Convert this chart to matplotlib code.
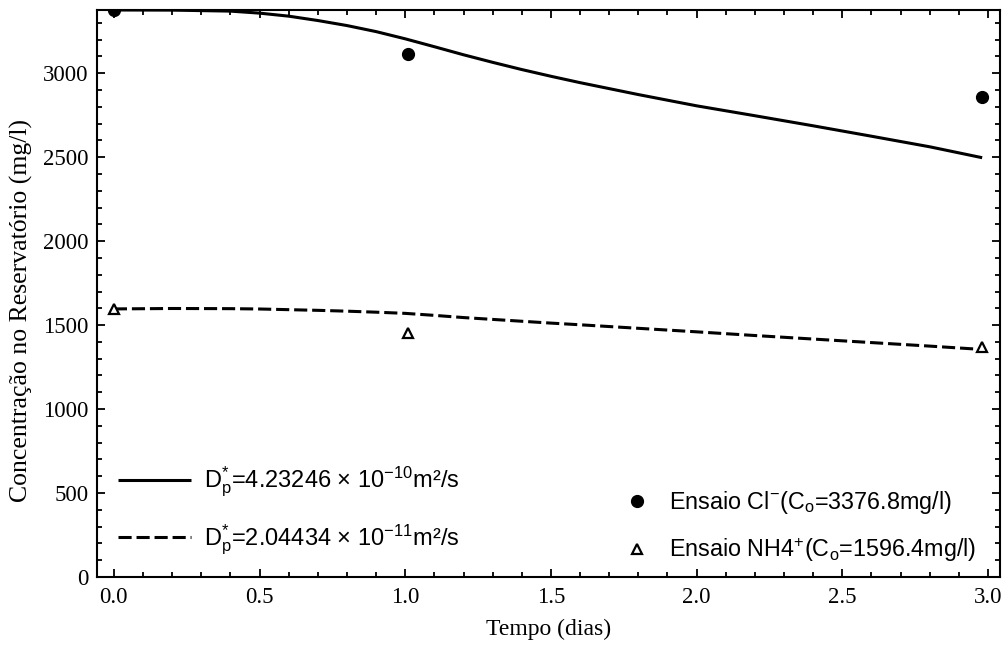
import matplotlib
matplotlib.use("Agg")
import matplotlib.pyplot as plt
from matplotlib.ticker import MultipleLocator, FormatStrFormatter

plt.rcParams['mathtext.fontset'] = 'custom'
plt.rcParams['mathtext.rm'] = 'Liberation Sans'
plt.rcParams['mathtext.it'] = 'Liberation Sans:italic'
plt.rcParams['mathtext.sf'] = 'Liberation Sans'

# Measured reservoir concentrations (mg/l) vs. time (days)
t_cl = [0.0, 1.01, 2.98]
c_cl = [3376.8, 3117, 2860]
t_nh4 = [0.0, 1.01, 2.98]
c_nh4 = [1596.4, 1455, 1370]

# Fitted model curves
t_fit = [0.0, 0.2, 0.4, 0.5, 0.6, 0.7, 0.8, 0.9, 1.0, 1.1, 1.2, 1.3, 1.4,
         1.5, 1.6, 1.8, 2.0, 2.2, 2.4, 2.6, 2.8, 2.98]
c_fit_cl = [3376.8, 3376, 3370, 3358, 3340, 3314, 3284, 3248, 3205, 3158,
            3110, 3065, 3022, 2982, 2944, 2873, 2806, 2747, 2687, 2625,
            2562, 2497]
c_fit_nh4 = [1596.4, 1599, 1598, 1596, 1592, 1588, 1583, 1577, 1570, 1558,
             1545, 1534, 1523, 1512, 1502, 1481, 1460, 1438, 1417, 1396,
             1375, 1355]

label_fit_cl = r'$\mathrm{D}_\mathrm{p}^{*}$=4.23246 × 10$^{-10}$m²/s'
label_fit_nh4 = r'$\mathrm{D}_\mathrm{p}^{*}$=2.04434 × 10$^{-11}$m²/s'
label_cl = r'Ensaio Cl$^{-}$(C$_\mathrm{o}$=3376.8mg/l)'
label_nh4 = r'Ensaio NH4$^{+}$(C$_\mathrm{o}$=1596.4mg/l)'

fig = plt.figure(figsize=(10.08, 6.48), dpi=100)
ax = fig.add_axes([0.0962, 0.1096, 0.8958, 0.875])

l1, = ax.plot(t_fit, c_fit_cl, color='black', lw=2.2, solid_capstyle='butt')
l2, = ax.plot(t_fit, c_fit_nh4, color='black', lw=2.2,
              linestyle=(0, (4.3, 1.6)))
p1, = ax.plot(t_cl, c_cl, 'o', color='black', ms=8.5, linestyle='none')
p2, = ax.plot(t_nh4, c_nh4, '^', mfc='white', mec='black', mew=1.6, ms=7.5,
              linestyle='none')

ax.set_xlim(-0.058, 3.041)
ax.set_ylim(0, 3376.8)

ax.xaxis.set_major_locator(MultipleLocator(0.5))
ax.xaxis.set_minor_locator(MultipleLocator(0.1))
ax.yaxis.set_major_locator(MultipleLocator(500))
ax.yaxis.set_minor_locator(MultipleLocator(100))
ax.xaxis.set_major_formatter(FormatStrFormatter('%.1f'))

ax.tick_params(which='both', direction='in', top=True, right=True, width=1.3)
ax.tick_params(which='major', length=6)
ax.tick_params(which='minor', length=3.5)
ax.tick_params(axis='x', pad=7)
ax.tick_params(axis='y', pad=6)
for lab in ax.get_xticklabels() + ax.get_yticklabels():
    lab.set_fontfamily('Liberation Serif')
    lab.set_fontsize(16.5)
for sp in ax.spines.values():
    sp.set_linewidth(1.5)

ax.set_xlabel('Tempo (dias)', fontfamily='Liberation Serif', fontsize=17,
              labelpad=8)
ax.set_ylabel('Concentração no Reservatório (mg/l)',
              fontfamily='Liberation Serif', fontsize=18.5)
ax.yaxis.set_label_coords(-0.071, 0.47)

leg1 = ax.legend([l1, l2], [label_fit_cl, label_fit_nh4], loc='center left',
                 bbox_to_anchor=(0.023, 0.116), frameon=False,
                 prop={'family': 'Liberation Sans', 'size': 17},
                 handlelength=3.1, handletextpad=0.55, borderpad=0,
                 borderaxespad=0, labelspacing=1.0)
ax.add_artist(leg1)
ax.legend([p1, p2], [label_cl, label_nh4], loc='center left',
          bbox_to_anchor=(0.588, 0.089), frameon=False,
          prop={'family': 'Liberation Sans', 'size': 16.8},
          handlelength=0.8, handletextpad=0.95, borderpad=0,
          borderaxespad=0, labelspacing=0.85, numpoints=1)

fig.savefig('out.png', dpi=100)
